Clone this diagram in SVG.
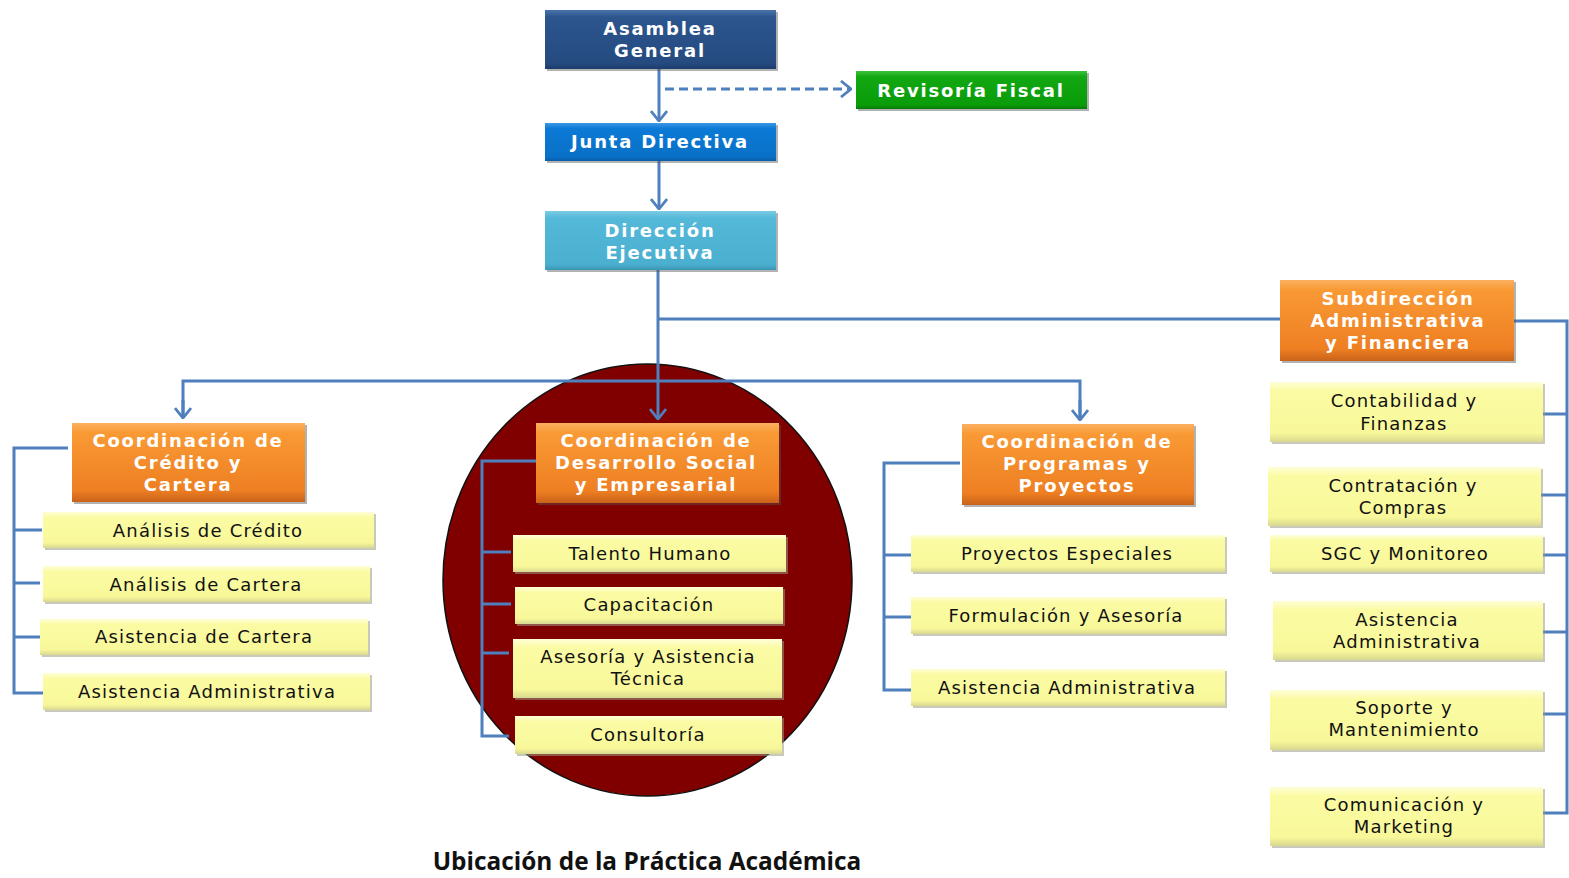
<svg xmlns="http://www.w3.org/2000/svg" width="1569" height="878" viewBox="0 0 1569 878">
<defs>
<linearGradient id="gDark" x1="0" y1="0" x2="0" y2="1"><stop offset="0" stop-color="#4a73aa"/><stop offset="0.12" stop-color="#2c558e"/><stop offset="0.9" stop-color="#254b80"/><stop offset="1" stop-color="#1c3d6c"/></linearGradient>
<linearGradient id="gJunta" x1="0" y1="0" x2="0" y2="1"><stop offset="0" stop-color="#3a98e6"/><stop offset="0.15" stop-color="#0b7ad6"/><stop offset="0.9" stop-color="#0970c6"/><stop offset="1" stop-color="#075ca6"/></linearGradient>
<linearGradient id="gDir" x1="0" y1="0" x2="0" y2="1"><stop offset="0" stop-color="#7ccbe4"/><stop offset="0.12" stop-color="#54b9d8"/><stop offset="0.9" stop-color="#4bb0d0"/><stop offset="1" stop-color="#3a95b2"/></linearGradient>
<linearGradient id="gGreen" x1="0" y1="0" x2="0" y2="1"><stop offset="0" stop-color="#3cc23c"/><stop offset="0.15" stop-color="#12a812"/><stop offset="0.9" stop-color="#0a9c0a"/><stop offset="1" stop-color="#077a07"/></linearGradient>
<linearGradient id="gOrange" x1="0" y1="0" x2="0" y2="1"><stop offset="0" stop-color="#fbb060"/><stop offset="0.12" stop-color="#f99a35"/><stop offset="0.85" stop-color="#ee7f22"/><stop offset="1" stop-color="#c9631a"/></linearGradient>
<linearGradient id="gYellow" x1="0" y1="0" x2="0" y2="1"><stop offset="0" stop-color="#fefed8"/><stop offset="0.15" stop-color="#fbfba4"/><stop offset="0.85" stop-color="#f8f89a"/><stop offset="1" stop-color="#d8d890"/></linearGradient>
<marker id="arr" viewBox="-1 -9 12 18" refX="10" refY="0" markerWidth="12" markerHeight="18" markerUnits="userSpaceOnUse" orient="auto">
<path d="M0,-8 L10,0 L0,8" fill="none" stroke="#4f7fbd" stroke-width="2.8"/>
</marker>
</defs>
<style>
.sh{fill:#9a9a86;opacity:0.55}
.shd{fill:#555;opacity:0.45}
.hd{font-family:"DejaVu Sans",Verdana,sans-serif;font-weight:bold;font-size:18px;fill:#ffffff;text-anchor:middle;letter-spacing:1.8px}
.yt{font-family:"DejaVu Sans",Verdana,sans-serif;font-size:18px;fill:#111111;text-anchor:middle;letter-spacing:1.2px}
.ln{fill:none;stroke:#4f7fbd;stroke-width:3}
.foot{font-family:"Open Sans","Liberation Sans",sans-serif;font-weight:bold;font-size:24.4px;fill:#111;text-anchor:middle}
</style>
<rect width="1569" height="878" fill="#ffffff"/>

<ellipse id="practica" cx="647.5" cy="580" rx="204.5" ry="216" fill="#800000" stroke="#111" stroke-width="1.5"/>

<g id="connectors">
<line class="ln" x1="659" y1="69" x2="659" y2="121" marker-end="url(#arr)"/>
<line class="ln" x1="665" y1="89" x2="851" y2="89" stroke-dasharray="9,5" marker-end="url(#arr)"/>
<line class="ln" x1="659" y1="161" x2="659" y2="209" marker-end="url(#arr)"/>
<line class="ln" x1="658" y1="270" x2="658" y2="419" marker-end="url(#arr)"/>
<line class="ln" x1="658" y1="319" x2="1280" y2="319"/>
<polyline class="ln" points="183,417 183,381 1080,381 1080,419"/>
<line class="ln" x1="183" y1="400" x2="183" y2="418" marker-end="url(#arr)"/>
<line class="ln" x1="1080" y1="400" x2="1080" y2="420" marker-end="url(#arr)"/>
<polyline class="ln" points="68,448 14,448 14,693 43,693"/>
<line class="ln" x1="14" y1="530" x2="42" y2="530"/>
<line class="ln" x1="14" y1="583" x2="40" y2="583"/>
<line class="ln" x1="14" y1="637" x2="40" y2="637"/>
<polyline class="ln" points="536,461 482,461 482,736 509,736"/>
<line class="ln" x1="482" y1="552" x2="511" y2="552"/>
<line class="ln" x1="482" y1="604" x2="511" y2="604"/>
<line class="ln" x1="482" y1="653" x2="509" y2="653"/>
<polyline class="ln" points="960,463 884,463 884,690 911,690"/>
<line class="ln" x1="884" y1="555" x2="911" y2="555"/>
<line class="ln" x1="884" y1="617" x2="911" y2="617"/>
<polyline class="ln" points="1514,321 1567,321 1567,813 1543,813"/>
<line class="ln" x1="1543" y1="414" x2="1567" y2="414"/>
<line class="ln" x1="1541" y1="495" x2="1567" y2="495"/>
<line class="ln" x1="1543" y1="555" x2="1567" y2="555"/>
<line class="ln" x1="1543" y1="632" x2="1567" y2="632"/>
<line class="ln" x1="1543" y1="714" x2="1567" y2="714"/>
</g>

<g id="asamblea"><rect class="shd" x="547" y="12" width="231" height="59"/><rect x="545" y="10" width="231" height="59" fill="url(#gDark)"/><text class="hd" x="660" y="35">Asamblea</text><text class="hd" x="660" y="57">General</text></g>
<g id="revisoria"><rect class="shd" x="858" y="73" width="231" height="38"/><rect x="856" y="71" width="231" height="38" fill="url(#gGreen)"/><text class="hd" x="971" y="97">Revisoría Fiscal</text></g>
<g id="junta"><rect class="shd" x="547" y="125" width="231" height="38"/><rect x="545" y="123" width="231" height="38" fill="url(#gJunta)"/><text class="hd" x="660" y="148">Junta Directiva</text></g>
<g id="direccion"><rect class="shd" x="547" y="213" width="231" height="59"/><rect x="545" y="211" width="231" height="59" fill="url(#gDir)"/><text class="hd" x="660" y="237">Dirección</text><text class="hd" x="660" y="259">Ejecutiva</text></g>

<g id="coord-credito"><rect class="shd" x="74" y="425" width="233" height="79"/><rect x="72" y="423" width="233" height="79" fill="url(#gOrange)"/><text class="hd" x="188" y="447">Coordinación de</text><text class="hd" x="188" y="469">Crédito y</text><text class="hd" x="188" y="491">Cartera</text></g>
<g id="analisis-credito"><rect class="sh" x="45" y="514" width="331" height="36"/><rect x="43" y="512" width="331" height="36" fill="url(#gYellow)"/><text class="yt" x="208" y="537">Análisis de Crédito</text></g>
<g id="analisis-cartera"><rect class="sh" x="45" y="568" width="327" height="36"/><rect x="43" y="566" width="327" height="36" fill="url(#gYellow)"/><text class="yt" x="206" y="591">Análisis de Cartera</text></g>
<g id="asistencia-cartera"><rect class="sh" x="42" y="621" width="328" height="36"/><rect x="40" y="619" width="328" height="36" fill="url(#gYellow)"/><text class="yt" x="204" y="643">Asistencia de Cartera</text></g>
<g id="asistencia-adm-1"><rect class="sh" x="45" y="675" width="327" height="37"/><rect x="43" y="673" width="327" height="37" fill="url(#gYellow)"/><text class="yt" x="207" y="698">Asistencia Administrativa</text></g>

<g id="coord-desarrollo"><rect class="shd" x="538" y="425" width="243" height="80"/><rect x="536" y="423" width="243" height="80" fill="url(#gOrange)"/><text class="hd" x="656" y="447">Coordinación de</text><text class="hd" x="656" y="469">Desarrollo Social</text><text class="hd" x="656" y="491">y Empresarial</text></g>
<g id="talento"><rect class="sh" x="515" y="537" width="273" height="37"/><rect x="513" y="535" width="273" height="37" fill="url(#gYellow)"/><text class="yt" x="650" y="560">Talento Humano</text></g>
<g id="capacitacion"><rect class="sh" x="517" y="589" width="268" height="37"/><rect x="515" y="587" width="268" height="37" fill="url(#gYellow)"/><text class="yt" x="649" y="611">Capacitación</text></g>
<g id="asesoria-tecnica"><rect class="sh" x="515" y="641" width="269" height="59"/><rect x="513" y="639" width="269" height="59" fill="url(#gYellow)"/><text class="yt" x="648" y="663">Asesoría y Asistencia</text><text class="yt" x="648" y="685">Técnica</text></g>
<g id="consultoria"><rect class="sh" x="517" y="718" width="267" height="38"/><rect x="515" y="716" width="267" height="38" fill="url(#gYellow)"/><text class="yt" x="648" y="741">Consultoría</text></g>

<g id="coord-programas"><rect class="shd" x="964" y="426" width="232" height="81"/><rect x="962" y="424" width="232" height="81" fill="url(#gOrange)"/><text class="hd" x="1077" y="448">Coordinación de</text><text class="hd" x="1077" y="470">Programas y</text><text class="hd" x="1077" y="492">Proyectos</text></g>
<g id="proyectos-especiales"><rect class="sh" x="913" y="537" width="314" height="37"/><rect x="911" y="535" width="314" height="37" fill="url(#gYellow)"/><text class="yt" x="1067" y="560">Proyectos Especiales</text></g>
<g id="formulacion"><rect class="sh" x="913" y="599" width="314" height="37"/><rect x="911" y="597" width="314" height="37" fill="url(#gYellow)"/><text class="yt" x="1066" y="622">Formulación y Asesoría</text></g>
<g id="asistencia-adm-2"><rect class="sh" x="913" y="671" width="314" height="37"/><rect x="911" y="669" width="314" height="37" fill="url(#gYellow)"/><text class="yt" x="1067" y="694">Asistencia Administrativa</text></g>

<g id="subdireccion"><rect class="shd" x="1282" y="282" width="234" height="81"/><rect x="1280" y="280" width="234" height="81" fill="url(#gOrange)"/><text class="hd" x="1398" y="305">Subdirección</text><text class="hd" x="1398" y="327">Administrativa</text><text class="hd" x="1398" y="349">y Financiera</text></g>
<g id="contabilidad"><rect class="sh" x="1272" y="384" width="273" height="60"/><rect x="1270" y="382" width="273" height="60" fill="url(#gYellow)"/><text class="yt" x="1404" y="407">Contabilidad y</text><text class="yt" x="1404" y="430">Finanzas</text></g>
<g id="contratacion"><rect class="sh" x="1270" y="469" width="273" height="59"/><rect x="1268" y="467" width="273" height="59" fill="url(#gYellow)"/><text class="yt" x="1403" y="492">Contratación y</text><text class="yt" x="1403" y="514">Compras</text></g>
<g id="sgc"><rect class="sh" x="1272" y="537" width="273" height="37"/><rect x="1270" y="535" width="273" height="37" fill="url(#gYellow)"/><text class="yt" x="1405" y="560">SGC y Monitoreo</text></g>
<g id="asistencia-adm-3"><rect class="sh" x="1275" y="603" width="270" height="59"/><rect x="1273" y="601" width="270" height="59" fill="url(#gYellow)"/><text class="yt" x="1407" y="626">Asistencia</text><text class="yt" x="1407" y="648">Administrativa</text></g>
<g id="soporte"><rect class="sh" x="1272" y="692" width="273" height="60"/><rect x="1270" y="690" width="273" height="60" fill="url(#gYellow)"/><text class="yt" x="1404" y="714">Soporte y</text><text class="yt" x="1404" y="736">Mantenimiento</text></g>
<g id="comunicacion"><rect class="sh" x="1272" y="789" width="273" height="59"/><rect x="1270" y="787" width="273" height="59" fill="url(#gYellow)"/><text class="yt" x="1404" y="811">Comunicación y</text><text class="yt" x="1404" y="833">Marketing</text></g>

<text class="foot" x="647" y="870">Ubicación de la Práctica Académica</text>
</svg>
